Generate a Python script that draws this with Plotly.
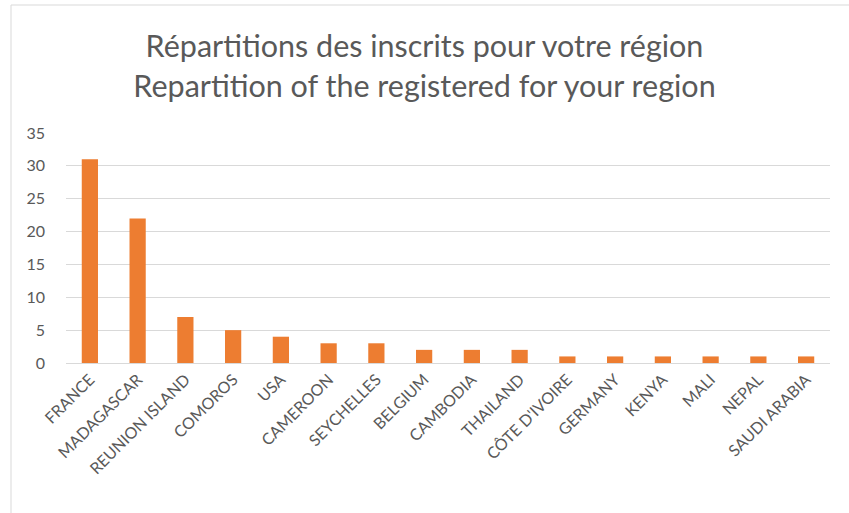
import plotly.graph_objects as go

countries = ["FRANCE", "MADAGASCAR", "REUNION ISLAND", "COMOROS", "USA", "CAMEROON",
             "SEYCHELLES", "BELGIUM", "CAMBODIA", "THAILAND", "CÔTE D'IVOIRE", "GERMANY",
             "KENYA", "MALI", "NEPAL", "SAUDI ARABIA"]
counts = [31, 22, 7, 5, 4, 3, 3, 2, 2, 2, 1, 1, 1, 1, 1, 1]
y_ticks = [0, 5, 10, 15, 20, 25, 30, 35]

W, H = 849, 513
L, R, T, B = 66, 19, 133, 150
pw, ph = W - L - R, H - T - B

def px_x(p):
    return (p - L) / pw

def px_y(p):
    return (H - B - p) / ph

fig = go.Figure(go.Bar(x=countries, y=counts, marker_color="#ED7D31",
                       marker_line_width=0))

fig.update_layout(
    width=W, height=H,
    margin=dict(l=L, r=R, t=T, b=B, autoexpand=False),
    paper_bgcolor="white", plot_bgcolor="white",
    bargap=0.66,
    showlegend=False,
    font=dict(family="Lato, Open Sans, sans-serif", color="#595959"),
    title=dict(text="Répartitions des inscrits pour votre région<br>Repartition of the registered for your region",
               x=0.5, xanchor="center", y=1 - 57 / H, yanchor="middle",
               font=dict(size=30.5, color="#595959", family="Lato, sans-serif")),
    xaxis=dict(tickangle=-45, tickfont=dict(size=16, color="#595959"),
               showline=True, linecolor="#d9d9d9", linewidth=1,
               ticks="", showgrid=False, automargin=False),
    yaxis=dict(range=[0, 35], tickvals=y_ticks, tickfont=dict(size=16, color="#595959"),
               showgrid=True, gridcolor="#d9d9d9", gridwidth=1, zeroline=False,
               ticks="", showline=False, ticklabelstandoff=20, automargin=False),
    shapes=[dict(type="rect", xref="paper", yref="paper",
                 x0=px_x(11), x1=px_x(860), y0=px_y(530), y1=px_y(5),
                 line=dict(color="#d9d9d9", width=1), fillcolor="rgba(0,0,0,0)",
                 layer="below")],
)

fig.write_html("out.html", config={"displayModeBar": False},
               post_script="document.body.style.margin='0';")
